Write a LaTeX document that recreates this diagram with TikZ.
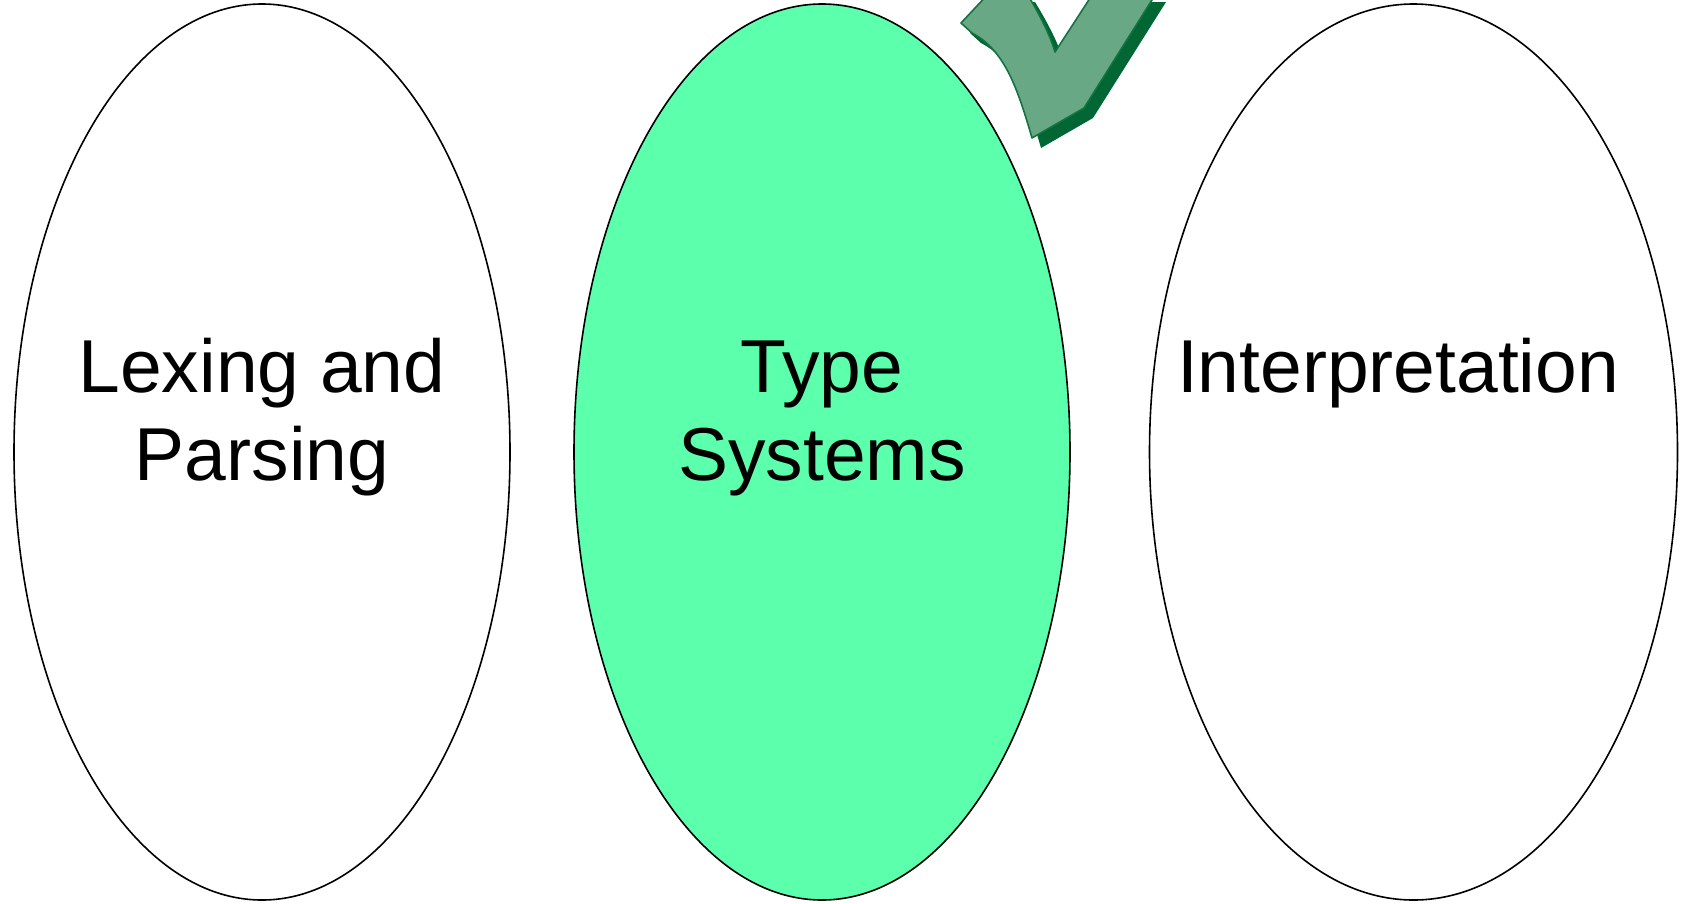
\documentclass[tikz,border=0pt]{standalone}
\usepackage{fontspec}
\setmainfont{Liberation Sans}
\usetikzlibrary{shapes.geometric}
\definecolor{mint}{RGB}{92,255,172}
\definecolor{darkg}{RGB}{0,102,51}
\definecolor{checkg}{RGB}{105,168,133}
\definecolor{edgeg}{RGB}{20,115,65}
\tikzset{
  oval/.style={draw=black, line width=1.6pt, ellipse, inner sep=0pt},
  lbl/.style={anchor=base, font=\fontsize{75}{88}\selectfont, inner sep=0pt},
}
\begin{document}
\begin{tikzpicture}[x=1pt,y=-1pt]
\useasboundingbox (0,0) rectangle (1683,903);
\fill[white] (0,0) rectangle (1683,903);
\node[oval, minimum width=496pt, minimum height=896pt] (lex) at (262,452) {};
\node[oval, fill=mint, minimum width=496pt, minimum height=896pt] (type) at (822,452) {};
\node[oval, minimum width=528pt, minimum height=896pt] (interp) at (1413.5,452) {};
\node[lbl] (lex1) at (262,392) {Lexing and};
\node[lbl] (lex2) at (262,480) {Parsing};
\node[lbl] (type1) at (822,392) {Type};
\node[lbl] (type2) at (822,480) {Systems};
\node[lbl] (interp1) at (1398,392) {Interpretation};
% check mark shadow
\begin{scope}[shift={(9,10)}]
\fill[darkg] (961,23) -- (990,-8) -- (1026,-8) .. controls (1040,15) and (1050,35) .. (1055,52)
  -- (1094,-8) -- (1157,-8) -- (1084,108) -- (1032,138)
  .. controls (1018,90) and (1005,50) .. (972,33) -- cycle;
\end{scope}
% check mark front
\filldraw[fill=checkg, draw=edgeg, line width=1.6pt, line join=round]
  (961,23) -- (990,-8) -- (1026,-8) .. controls (1040,15) and (1050,35) .. (1055,52)
  -- (1094,-8) -- (1157,-8) -- (1084,108) -- (1032,138)
  .. controls (1018,90) and (1005,50) .. (972,33) -- cycle;
\end{tikzpicture}
\end{document}
